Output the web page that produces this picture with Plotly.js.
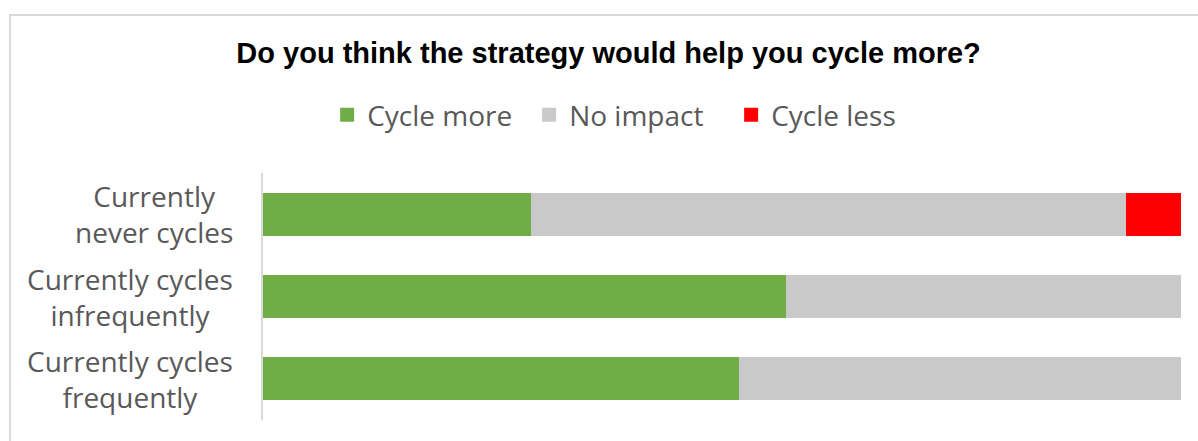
<!DOCTYPE html>
<html>
<head>
<meta charset="utf-8">
<script src="https://cdn.plot.ly/plotly-3.0.1.min.js"></script>
<style>
  html, body { margin: 0; padding: 0; overflow: hidden; background: #fff; }
  #wrap { position: relative; width: 1198px; height: 441px; }
  #chart { position: absolute; left: 0; top: 0; width: 1198px; height: 441px; }
  #frame { position: absolute; left: 9px; top: 14px; width: 1300px; height: 500px;
           border-top: 2px solid #d9d9d9; border-left: 2px solid #d9d9d9; pointer-events: none; }
</style>
</head>
<body>
<div id="wrap">
  <div id="chart"></div>
  <div id="frame"></div>
</div>
<script>
const categories = ["Currently<br>never cycles", "Currently cycles<br>infrequently", "Currently cycles<br>frequently"];
const cycleMore = [29.3, 57.1, 52.0];
const noImpact = [64.8, 42.9, 48.0];
const cycleLess = [5.9, 0, 0];
const seriesNames = ["Cycle more", "No impact", "Cycle less"];
const seriesColors = ["#70ad47", "#c9c9c9", "#ff0000"];
const titleText = "Do you think the strategy would help you cycle more?";

const seriesValues = [cycleMore, noImpact, cycleLess];
const data = seriesValues.map((vals, i) => ({
  type: "bar",
  orientation: "h",
  name: seriesNames[i],
  x: vals,
  y: categories,
  marker: {
    color: seriesColors[i],
    line: { color: seriesColors[i], width: vals.map(v => (v > 0 ? 2 : 0)) }
  },
  hoverinfo: "x+name"
}));

const annotations = categories.map(c => ({
  text: c,
  xref: "paper",
  yref: "y",
  x: -0.0305,
  y: c,
  xanchor: "right",
  yanchor: "middle",
  align: "center",
  showarrow: false,
  font: { family: "Open Sans, sans-serif", size: 28, color: "#595959" }
}));

const layout = {
  width: 1198,
  height: 441,
  margin: { l: 263, r: 17, t: 173, b: 21 },
  paper_bgcolor: "#ffffff",
  plot_bgcolor: "#ffffff",
  barmode: "stack",
  bargap: 0.505,
  title: {
    text: "<b>" + titleText + "</b>",
    font: { family: "Liberation Sans, Arial, sans-serif", size: 29, color: "#000000" },
    xref: "container", x: 0.508, xanchor: "center",
    yref: "container", y: 1 - 53 / 441, yanchor: "middle"
  },
  showlegend: true,
  legend: {
    orientation: "h",
    xref: "container", x: 0.526, xanchor: "center",
    yref: "container", y: 1 - 115 / 441, yanchor: "middle",
    entrywidth: 157,
    entrywidthmode: "pixels",
    font: { family: "Open Sans, sans-serif", size: 28, color: "#595959" },
    traceorder: "normal",
    itemclick: false, itemdoubleclick: false
  },
  xaxis: {
    range: [0, 100],
    showticklabels: false,
    showgrid: false,
    zeroline: false,
    showline: false,
    fixedrange: true
  },
  yaxis: {
    type: "category",
    categoryorder: "array",
    categoryarray: categories,
    autorange: "reversed",
    showticklabels: false,
    ticks: "",
    showgrid: false,
    zeroline: false,
    showline: true,
    linecolor: "#d9d9d9",
    linewidth: 2,
    layer: "above traces",
    fixedrange: true
  },
  annotations: annotations
};

Plotly.newPlot("chart", data, layout, { displayModeBar: false, staticPlot: true });
</script>
</body>
</html>
